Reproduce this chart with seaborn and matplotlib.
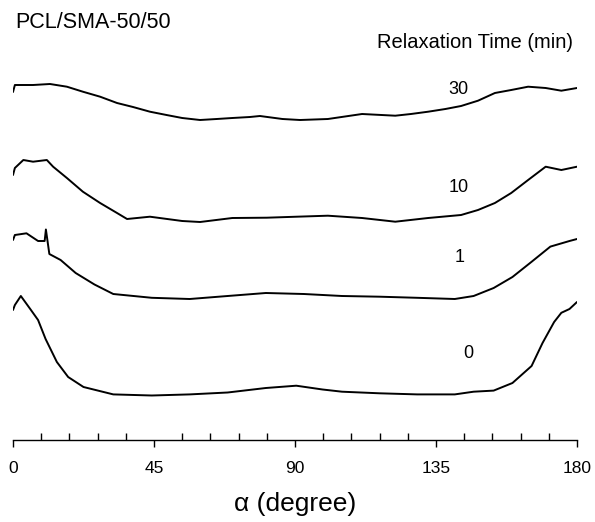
import matplotlib
matplotlib.use("Agg")
import matplotlib.pyplot as plt
import seaborn as sns
import pandas as pd
from matplotlib.ticker import MultipleLocator

# ---- data (intensity in arbitrary units, stacked) ----
angle_30 = [0, 0.6, 6.4, 11.8, 17.2, 22.3, 27.8, 33.2, 38.3, 43.7, 49, 54, 59.7, 65, 70,
            75.6, 78.8, 86, 91.6, 100.5, 111.4, 122, 127, 132.5, 138, 143, 148.4, 153.8,
            159, 164.4, 170, 175, 180]
int_30 = [348, 355, 355, 356, 353.3, 348.3, 343.3, 337, 333, 328.3, 325, 322, 320, 321, 322,
          323, 324, 321, 320, 321, 326, 324.3, 326, 328.3, 331, 334, 339.3, 347,
          350, 353.3, 352, 349.3, 352]

angle_10 = [0, 0.6, 3.3, 6.4, 10.8, 12.8, 17.2, 22.3, 27.8, 33.2, 36.4, 43.7, 54, 59.7, 70,
            81, 90.6, 100.5, 111.4, 122, 132.5, 143, 148.4, 153.8, 159, 164.4, 170, 175, 180]
int_10 = [265, 272, 280, 278.3, 280, 273.3, 262, 248.3, 237, 227, 221, 223.3, 219, 218, 222,
          222.3, 223.3, 224.3, 222, 218.3, 222, 225, 230, 237, 247, 260, 273.3, 270, 273.3]

angle_1 = [0, 0.6, 4.3, 8, 10.1, 10.5, 11.6, 15.2, 20, 26, 32, 44.3, 56.4, 68.5, 80.7, 92.8,
           105, 117, 129, 141, 147, 153.4, 159.4, 165.5, 171.5, 177.6, 180]
int_1 = [200, 205, 206.7, 199, 199, 210.5, 186, 180, 167, 155.5, 146, 142.2, 141, 144, 147, 146,
         144, 143.3, 142.2, 141, 144, 152, 163, 178.2, 193.4, 199, 201]

angle_0 = [0, 0.6, 2.5, 5.5, 8, 10.4, 14, 17.6, 22.5, 32, 44.3, 56.4, 68.5, 80.7, 90.4, 98.8,
           105, 117, 129, 141, 147, 153.4, 159.4, 165.5, 169, 172.7, 175, 177.6, 180]
int_0 = [130, 135, 144, 131, 120, 101, 78, 63, 53, 45.6, 44.5, 45.6, 47.5, 52, 54.3, 50.5,
         48.3, 46.7, 45.6, 45.6, 48.3, 49.4, 57, 74, 97, 118, 127.2, 131, 138]

times = ["30", "10", "1", "0"]
angles = [angle_30, angle_10, angle_1, angle_0]
intens = [int_30, int_10, int_1, int_0]

x_ticks = [0, 45, 90, 135, 180]
title_text = "PCL/SMA-50/50"
legend_title = "Relaxation Time (min)"
x_label = "\u03b1 (degree)"

# ---- build long table ----
rows = []
for t, a, v in zip(times, angles, intens):
    for ai, vi in zip(a, v):
        rows.append({"angle": ai, "intensity": vi, "time": t})
df = pd.DataFrame(rows)

sns.set_style("white")
plt.rcParams["font.family"] = ["Liberation Sans", "DejaVu Sans"]
plt.rcParams["text.color"] = "black"
plt.rcParams["axes.labelcolor"] = "black"
plt.rcParams["xtick.color"] = "black"

W, H = 595, 522
fig = plt.figure(figsize=(W / 100, H / 100), dpi=100)
ax = fig.add_axes([13 / W, 82 / H, 564 / W, 440 / H])

sns.lineplot(data=df, x="angle", y="intensity", hue="time", units="time",
             estimator=None, palette={t: "black" for t in times}, legend=False,
             linewidth=1.4, ax=ax, sort=False)

ax.set_xlim(0, 180)
ax.set_ylim(0, 440)

# curve labels
label_pos = {"30": (142.0, 351), "10": (142.3, 252), "1": (142.5, 182), "0": (145.3, 87)}
for t in times:
    lx, ly = label_pos[t]
    ax.text(lx, ly, t, ha="center", va="center", fontsize=13, color="black")

for s in ["left", "right", "top"]:
    ax.spines[s].set_visible(False)
ax.spines["bottom"].set_color("black")
ax.spines["bottom"].set_linewidth(1.0)
ax.set_yticks([])
ax.set_xticks(x_ticks)
ax.set_xticklabels([str(v) for v in x_ticks], fontsize=12.5)
ax.xaxis.set_minor_locator(MultipleLocator(9))
ax.tick_params(axis="x", which="major", direction="out", length=5, width=1,
               color="black", labelcolor="black", pad=10, bottom=True)
ax.tick_params(axis="x", which="minor", direction="in", length=5, width=1,
               color="black", bottom=True)
ax.set_xlabel(x_label, fontsize=19, labelpad=12, color="black")
ax.set_ylabel("")

fig.text(15 / W, 1 - 22 / H, title_text, ha="left", va="center", fontsize=15.5, color="black")
fig.text(573 / W, 1 - 42 / H, legend_title, ha="right", va="center", fontsize=14.5, color="black")

fig.savefig("out.png", dpi=100, facecolor="white")
